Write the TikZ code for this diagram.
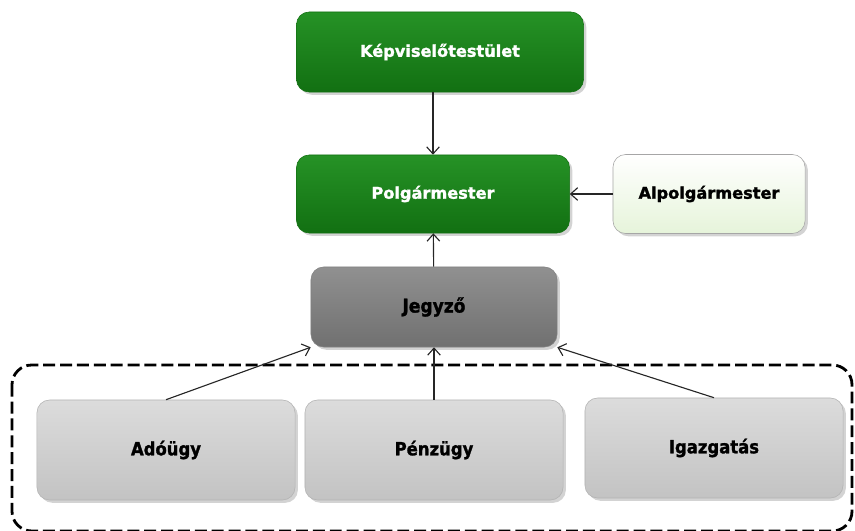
\documentclass[tikz,border=0pt]{standalone}
\usepackage{fontspec}
\setmainfont{DejaVu Sans}
\newfontfamily\vastag{DejaVu Sans}[BoldFeatures={FakeBold=1.6}]
\newfontfamily\szuk{DejaVu Sans Condensed}[BoldFeatures={FakeBold=1.4}]
\usetikzlibrary{shadows,arrows.meta}

\definecolor{zoldfel}{RGB}{38,146,38}
\definecolor{zoldle}{RGB}{18,112,18}
\definecolor{halvany}{RGB}{230,244,218}
\definecolor{szurke}{RGB}{205,205,205}
\definecolor{sotetszurke}{RGB}{132,132,132}

\tikzset{
  doboz/.style={rectangle, rounded corners=9pt, draw=black!35, thin, align=center,
    drop shadow={shadow xshift=2pt, shadow yshift=-2pt, opacity=0.35}},
  zold/.style={doboz, top color=zoldfel, bottom color=zoldle, draw=zoldle,
    text=white, font=\vastag\fontsize{11.5}{13}\selectfont\bfseries},
  vilagos/.style={doboz, top color=white, bottom color=halvany,
    font=\vastag\fontsize{11.5}{13}\selectfont\bfseries},
  jegyzo/.style={doboz, top color=sotetszurke!90, bottom color=sotetszurke!85!black,
    draw=black!50, font=\szuk\fontsize{13.5}{15}\selectfont\bfseries},
  osztaly/.style={doboz, top color=szurke!70, bottom color=szurke!95!black,
    draw=black!30, minimum width=6.45cm, minimum height=2.5cm,
    font=\szuk\fontsize{13}{15}\selectfont\bfseries},
  nyil/.style={-{Straight Barb[length=5pt,width=9pt]}, black!85, thick}
}

\begin{document}
\begin{tikzpicture}[x=0.025cm, y=-0.025cm]

    \useasboundingbox (0,0) rectangle (855,531);

    % Keret
    \draw[line width=2pt, dash pattern=on 8.5pt off 3.5pt, rounded corners=14pt]
        (12,365) rectangle (852,531);

    % Vezetes
    \node[zold, minimum width=7.175cm, minimum height=2cm] (kepv) at (440,52) {Képviselőtestület};
    \node[zold, minimum width=6.825cm, minimum height=1.95cm] (polg) at (433,194) {Polgármester};
    \node[vilagos, minimum width=4.8cm, minimum height=1.975cm] (alpolg) at (709,194) {Alpolgármester};
    \node[jegyzo, minimum width=6.15cm, minimum height=2cm] (jegyz) at (434,307) {Jegyző};

    % Osztalyok
    \node[osztaly] (ado) at (166,450) {Adóügy};
    \node[osztaly] (penz) at (434,450) {Pénzügy};
    \node[osztaly] (igazg) at (714,448) {Igazgatás};

    % Nyilak
    \draw[nyil] (polg.north |- kepv.south) -- (polg.north);
    \draw[nyil] (alpolg) -- (polg);
    \draw[nyil] (jegyz) -- (polg);
    \draw[nyil] (ado.north) -- (jegyz.south west);
    \draw[nyil] (penz) -- (jegyz);
    \draw[nyil] (igazg.north) -- (jegyz.south east);

\end{tikzpicture}
\end{document}
